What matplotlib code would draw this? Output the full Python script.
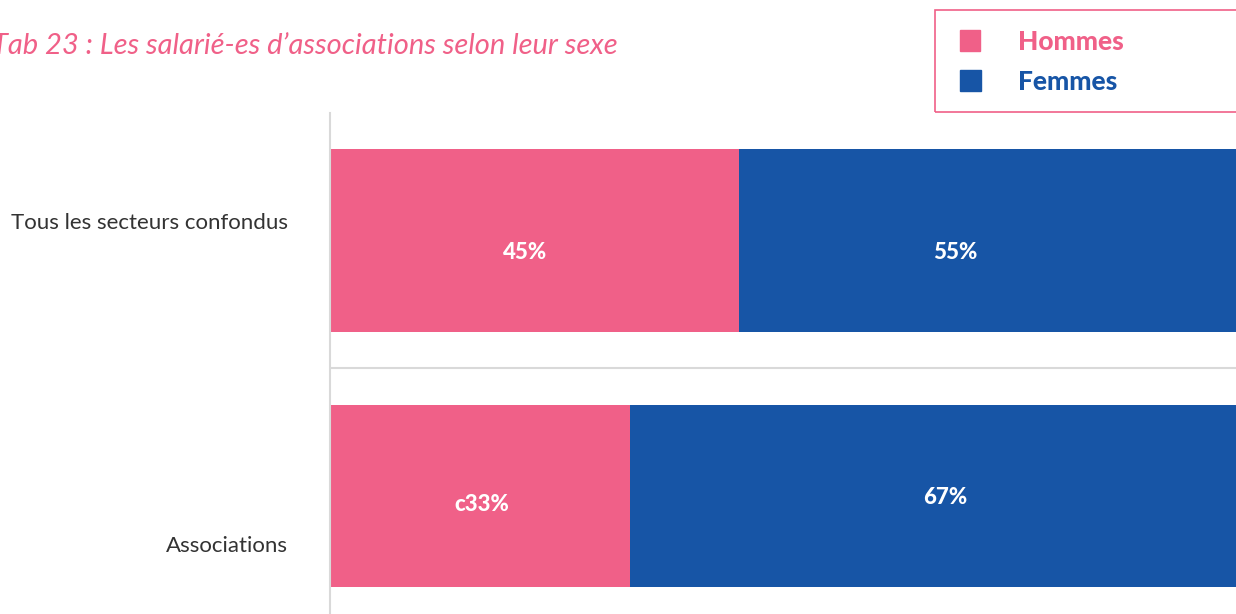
import matplotlib
matplotlib.use("Agg")
import matplotlib.pyplot as plt
from matplotlib.patches import Rectangle

# ---------------- data ----------------
categories = ["Tous les secteurs confondus", "Associations"]
hommes = [45, 33]
femmes = [55, 67]
hommes_labels = ["45%", "c33%"]
femmes_labels = ["55%", "67%"]

# small nudges for the value labels (x in % units, y in bar units)
h_dx, h_dy = [-1.0, 0.2], [0.045, 0.035]
f_dx, f_dy = [-3.7, 1.2], [0.045, 0.005]

PINK = "#F06088"
BLUE = "#1755A6"
TEXT = "#333333"

plt.rcParams["font.family"] = ["Lato", "DejaVu Sans"]

fig = plt.figure(figsize=(12.36, 6.14), dpi=100)
W, H = 1236, 614

# axes: x 0..100 spans px 330..1239, y spans px 113..614
ax = fig.add_axes([330 / W, 0, 909 / W, (614 - 113) / H])
ypos = list(range(len(categories)))
bar_h = 0.716

ax.barh(ypos, hommes, height=bar_h, color=PINK, linewidth=0)
ax.barh(ypos, femmes, left=hommes, height=bar_h, color=BLUE, linewidth=0)

for i in ypos:
    ax.text(hommes[i] / 2 + h_dx[i], i + h_dy[i], hommes_labels[i], ha="center", va="center",
            color="white", fontsize=16, fontweight=900)
    ax.text(hommes[i] + femmes[i] / 2 + f_dx[i], i + f_dy[i], femmes_labels[i], ha="center",
            va="center", color="white", fontsize=16, fontweight=900)

ax.set_xlim(0, 100)
ax.set_ylim(1.462, -0.5)
ax.axhline(0.5, color="#d9d9d9", linewidth=1.5, zorder=0)
for s in ["top", "right", "bottom"]:
    ax.spines[s].set_visible(False)
ax.spines["left"].set_color("#d9d9d9")
ax.spines["left"].set_linewidth(1.5)
ax.set_xticks([])
ax.set_yticks([])

# category labels
fig.text(288 / W, 1 - 223 / H, categories[0], ha="right", va="center",
         color=TEXT, fontsize=16)
fig.text(288 / W, 1 - 546 / H, categories[1], ha="right", va="center",
         color=TEXT, fontsize=16)

# title
fig.text(-8 / W, 1 - 46 / H, "Tab 23 : Les salarié-es d\u2019associations selon leur sexe",
         ha="left", va="center", color=PINK, fontsize=21, fontstyle="italic")

# legend box
fig.patches.append(Rectangle((935 / W, 1 - 112 / H), 310 / W, 102 / H,
                             transform=fig.transFigure, fill=False,
                             edgecolor=PINK, linewidth=1.2))
fig.patches.append(Rectangle((960 / W, 1 - 51 / H), 20 / W, 21 / H,
                             transform=fig.transFigure, color=PINK))
fig.patches.append(Rectangle((960 / W, 1 - 91 / H), 21 / W, 21 / H,
                             transform=fig.transFigure, color=BLUE))
fig.text(1018 / W, 1 - 42 / H, "Hommes", ha="left", va="center",
         color=PINK, fontsize=19, fontweight=900)
fig.text(1018 / W, 1 - 82 / H, "Femmes", ha="left", va="center",
         color=BLUE, fontsize=19, fontweight=900)

fig.savefig("out.png", dpi=100)
